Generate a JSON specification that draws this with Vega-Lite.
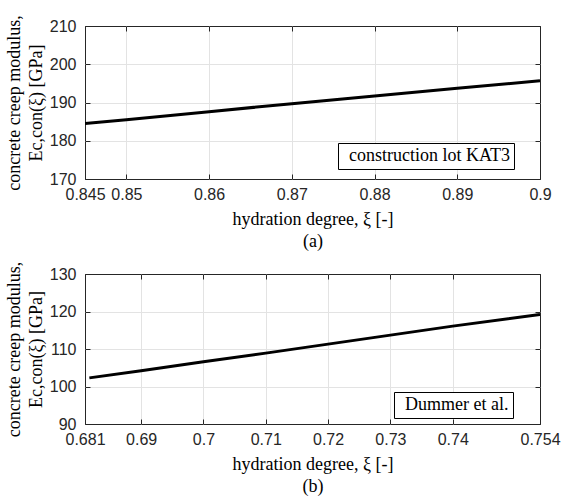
{
  "$schema": "https://vega.github.io/schema/vega-lite/v6.json",
  "background": "white",
  "padding": {"left": 4, "top": 14, "right": 10, "bottom": 0},
  "spacing": 9,
  "config": {
    "view": {"stroke": "#262626", "strokeWidth": 1},
    "axis": {
      "labelFont": "Liberation Sans",
      "labelFontSize": 16,
      "labelColor": "#262626",
      "titleFont": "Liberation Serif",
      "titleFontSize": 18,
      "titleFontWeight": "normal",
      "titleColor": "black",
      "titleLineHeight": 22,
      "tickColor": "#262626",
      "tickSize": -5,
      "domain": false,
      "labelFlush": false,
      "labelOverlap": false,
      "labelBound": false
    },
    "axisX": {"labelPadding": 12, "titlePadding": 8},
    "axisY": {"labelPadding": 14, "titlePadding": 4},
    "legend": {
      "labelFont": "Liberation Serif",
      "labelFontSize": 18,
      "labelColor": "black",
      "strokeColor": "black",
      "fillColor": "white",
      "padding": 4,
      "labelLimit": 400
    }
  },
  "datasets": {
    "kat3": [
      {"xi": 0.845, "E": 184.5, "series": "construction lot KAT3\u00a0"},
      {"xi": 0.85, "E": 185.5, "series": "construction lot KAT3\u00a0"},
      {"xi": 0.86, "E": 187.6, "series": "construction lot KAT3\u00a0"},
      {"xi": 0.87, "E": 189.7, "series": "construction lot KAT3\u00a0"},
      {"xi": 0.88, "E": 191.7, "series": "construction lot KAT3\u00a0"},
      {"xi": 0.89, "E": 193.7, "series": "construction lot KAT3\u00a0"},
      {"xi": 0.9, "E": 195.7, "series": "construction lot KAT3\u00a0"}
    ],
    "dummer": [
      {"xi": 0.6817, "E": 102.3, "series": "Dummer et al.\u00a0"},
      {"xi": 0.69, "E": 104.2, "series": "Dummer et al.\u00a0"},
      {"xi": 0.7, "E": 106.6, "series": "Dummer et al.\u00a0"},
      {"xi": 0.71, "E": 108.9, "series": "Dummer et al.\u00a0"},
      {"xi": 0.72, "E": 111.3, "series": "Dummer et al.\u00a0"},
      {"xi": 0.73, "E": 113.7, "series": "Dummer et al.\u00a0"},
      {"xi": 0.74, "E": 116.1, "series": "Dummer et al.\u00a0"},
      {"xi": 0.754, "E": 119.2, "series": "Dummer et al.\u00a0"}
    ]
  },
  "vconcat": [
    {
      "width": 455,
      "height": 153,
      "data": {"name": "kat3"},
      "layer": [
        {
          "mark": {"type": "line", "strokeWidth": 3, "clip": true},
          "encoding": {
            "x": {
              "field": "xi", "type": "quantitative",
              "scale": {"domain": [0.845, 0.9], "nice": false, "zero": false},
              "axis": {
                "values": [0.845, 0.85, 0.86, 0.87, 0.88, 0.89, 0.9],
                "labelExpr": "'' + datum.value",
                "title": ["hydration degree, ξ [-]", "(a)"],
                "gridColor": {"condition": {"test": "datum.value <= 0.845 || datum.value >= 0.9", "value": "transparent"}, "value": "#e3e3e3"}
              }
            },
            "y": {
              "field": "E", "type": "quantitative",
              "scale": {"domain": [170, 210], "nice": false, "zero": false},
              "axis": {
                "values": [170, 180, 190, 200, 210],
                "title": ["concrete creep modulus,", "Ec,con(ξ) [GPa]"],
                "gridColor": {"condition": {"test": "datum.value <= 170 || datum.value >= 210", "value": "transparent"}, "value": "#e3e3e3"}
              }
            },
            "color": {
              "field": "series", "type": "nominal",
              "scale": {"range": ["black"]},
              "legend": {"title": null, "orient": "none", "legendX": 253, "legendY": 117,
                "symbolType": "circle", "symbolSize": 0, "symbolStrokeWidth": 0, "symbolOpacity": 0, "labelOffset": -11}
            }
          }
        },
        {
          "mark": {"type": "line", "opacity": 0},
          "encoding": {
            "x": {"field": "xi", "type": "quantitative",
              "axis": {"orient": "top", "values": [0.845, 0.85, 0.86, 0.87, 0.88, 0.89, 0.9], "labels": false, "title": null, "grid": false}},
            "y": {"field": "E", "type": "quantitative",
              "axis": {"orient": "right", "values": [170, 180, 190, 200, 210], "labels": false, "title": null, "grid": false}}
          }
        }
      ],
      "resolve": {"axis": {"x": "independent", "y": "independent"}}
    },
    {
      "width": 455,
      "height": 150,
      "data": {"name": "dummer"},
      "layer": [
        {
          "mark": {"type": "line", "strokeWidth": 3, "clip": true},
          "encoding": {
            "x": {
              "field": "xi", "type": "quantitative",
              "scale": {"domain": [0.681, 0.754], "nice": false, "zero": false},
              "axis": {
                "values": [0.681, 0.69, 0.7, 0.71, 0.72, 0.73, 0.74, 0.754],
                "labelExpr": "'' + datum.value",
                "title": ["hydration degree, ξ [-]", "(b)"],
                "gridColor": {"condition": {"test": "datum.value <= 0.681 || datum.value >= 0.754", "value": "transparent"}, "value": "#e3e3e3"}
              }
            },
            "y": {
              "field": "E", "type": "quantitative",
              "scale": {"domain": [90, 130], "nice": false, "zero": false},
              "axis": {
                "values": [90, 100, 110, 120, 130],
                "title": ["concrete creep modulus,", "Ec,con(ξ) [GPa]"],
                "gridColor": {"condition": {"test": "datum.value <= 90 || datum.value >= 130", "value": "transparent"}, "value": "#e3e3e3"}
              }
            },
            "color": {
              "field": "series", "type": "nominal",
              "scale": {"range": ["black"]},
              "legend": {"title": null, "orient": "none", "legendX": 309, "legendY": 118,
                "symbolType": "circle", "symbolSize": 0, "symbolStrokeWidth": 0, "symbolOpacity": 0, "labelOffset": -11}
            }
          }
        },
        {
          "mark": {"type": "line", "opacity": 0},
          "encoding": {
            "x": {"field": "xi", "type": "quantitative",
              "axis": {"orient": "top", "values": [0.681, 0.69, 0.7, 0.71, 0.72, 0.73, 0.74, 0.754], "labels": false, "title": null, "grid": false}},
            "y": {"field": "E", "type": "quantitative",
              "axis": {"orient": "right", "values": [90, 100, 110, 120, 130], "labels": false, "title": null, "grid": false}}
          }
        }
      ],
      "resolve": {"axis": {"x": "independent", "y": "independent"}}
    }
  ],
  "resolve": {"scale": {"color": "independent"}, "legend": {"color": "independent"}}
}
